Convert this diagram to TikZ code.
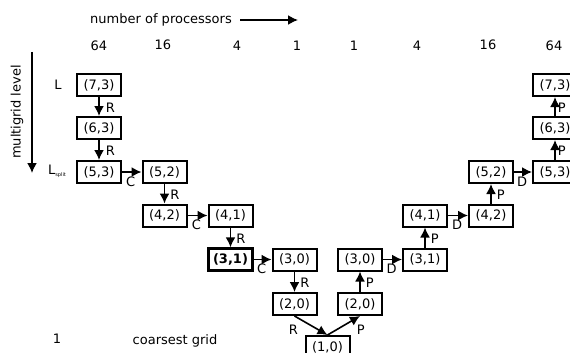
\documentclass[tikz,border=0pt]{standalone}
\usepackage{fontspec}
\setmainfont{DejaVu Sans}
\usetikzlibrary{positioning,arrows.meta}

\begin{document}
\begin{tikzpicture}[x=1pt, y=-1pt, every node/.style={font=\fontsize{13}{15}\selectfont},
    level/.style={draw, line width=2pt, minimum width=44pt, minimum height=22pt, inner sep=0pt},
    coarse/.style={level, line width=2.4pt, font=\fontsize{13}{15}\selectfont\bfseries},
    flow/.style={line width=1.6pt, -{Latex[length=10pt,width=10pt]}},
    lab/.style={inner sep=1pt}]
    \useasboundingbox (0,0) rectangle (570,353);

    % Axes
    \node (procs) at (161,20) {number of processors};
    \coordinate (pa) at (240,20);
    \coordinate (pb) at (298,20);
    \draw[flow] (pa) -- (pb);
    \node[rotate=90] (mlev) at (17,112) {multigrid level};
    \coordinate (ma) at (32,52);
    \coordinate (mb) at (32,173);
    \draw[flow] (ma) -- (mb);

    % Processor counts
    \node (n1) at (99,46) {64};
    \node (n2) at (163,45) {16};
    \node (n3) at (237,46) {4};
    \node (n4) at (297,46) {1};
    \node (n5) at (354,46) {1};
    \node (n6) at (417,46) {4};
    \node (n7) at (488,45) {16};
    \node (n8) at (554,46) {64};

    % Level labels
    \node (lL) at (58,85) {L};
    \node (lS) at (57,171) {L\raisebox{-0.3ex}{\fontsize{5}{6}\selectfont split}};
    \node (lone) at (57,339) {1};
    \node (lcg) at (175,341) {coarsest grid};

    % Restriction side
    \node[level] (a73) at (99,85) {(7,3)};
    \node[level] (a63) at (99,128) {(6,3)};
    \node[level] (a53) at (99,172) {(5,3)};
    \node[level] (a52) at (164.5,172) {(5,2)};
    \node[level] (a42) at (164.5,215.5) {(4,2)};
    \node[level] (a41) at (230.5,215.5) {(4,1)};
    \node[coarse] (a31) at (230.5,259.5) {(3,1)};
    \node[level] (a30) at (294.5,259.5) {(3,0)};
    \node[level] (a20) at (294.5,304) {(2,0)};
    \node[level] (c10) at (327.5,347) {(1,0)};

    % Prolongation side
    \node[level] (b20) at (360,304) {(2,0)};
    \node[level] (b30) at (360,259.5) {(3,0)};
    \node[level] (b31) at (425,259.5) {(3,1)};
    \node[level] (b41) at (425,215.5) {(4,1)};
    \node[level] (b42) at (491,215.5) {(4,2)};
    \node[level] (b52) at (491,172) {(5,2)};
    \node[level] (b53) at (555,172) {(5,3)};
    \node[level] (b63) at (555,128) {(6,3)};
    \node[level] (b73) at (555,85) {(7,3)};

    % Arrows down
    \draw[flow] (a73) -- node[lab, right, pos=0.55, xshift=5pt] {R} (a63);
    \draw[flow] (a63) -- node[lab, right, pos=0.55, xshift=5pt] {R} (a53);
    \draw[flow] (a53) -- node[lab, below, pos=0.45, yshift=-3pt] {C} (a52);
    \draw[flow] (a52) -- node[lab, right, pos=0.55, xshift=4pt] {R} (a42);
    \draw[flow] (a42) -- node[lab, below, pos=0.45, yshift=-3pt] {C} (a41);
    \draw[flow] (a41) -- node[lab, right, pos=0.55, xshift=4pt] {R} (a31);
    \draw[flow] (a31) -- node[lab, below, pos=0.45, yshift=-3pt] {C} (a30);
    \draw[flow] (a30) -- node[lab, right, pos=0.55, xshift=4pt] {R} (a20);
    \draw[flow] (a20.south) -- node[lab, below left, pos=0.4, xshift=-8pt] {R} (c10.north);

    % Arrows up
    \draw[flow] (c10.north) -- node[lab, below right, pos=0.6, xshift=8pt] {P} (b20.south);
    \draw[flow] (b20) -- node[lab, right, pos=0.45, xshift=4pt] {P} (b30);
    \draw[flow] (b30) -- node[lab, below, pos=0.45, yshift=-3pt] {D} (b31);
    \draw[flow] (b31) -- node[lab, right, pos=0.45, xshift=4pt] {P} (b41);
    \draw[flow] (b41) -- node[lab, below, pos=0.45, yshift=-3pt] {D} (b42);
    \draw[flow] (b42) -- node[lab, right, pos=0.45, xshift=4pt] {P} (b52);
    \draw[flow] (b52) -- node[lab, below, pos=0.45, yshift=-3pt] {D} (b53);
    \draw[flow] (b53) -- node[lab, right, pos=0.45, xshift=1pt] {P} (b63);
    \draw[flow] (b63) -- node[lab, right, pos=0.45, xshift=1pt] {P} (b73);
\end{tikzpicture}
\end{document}
